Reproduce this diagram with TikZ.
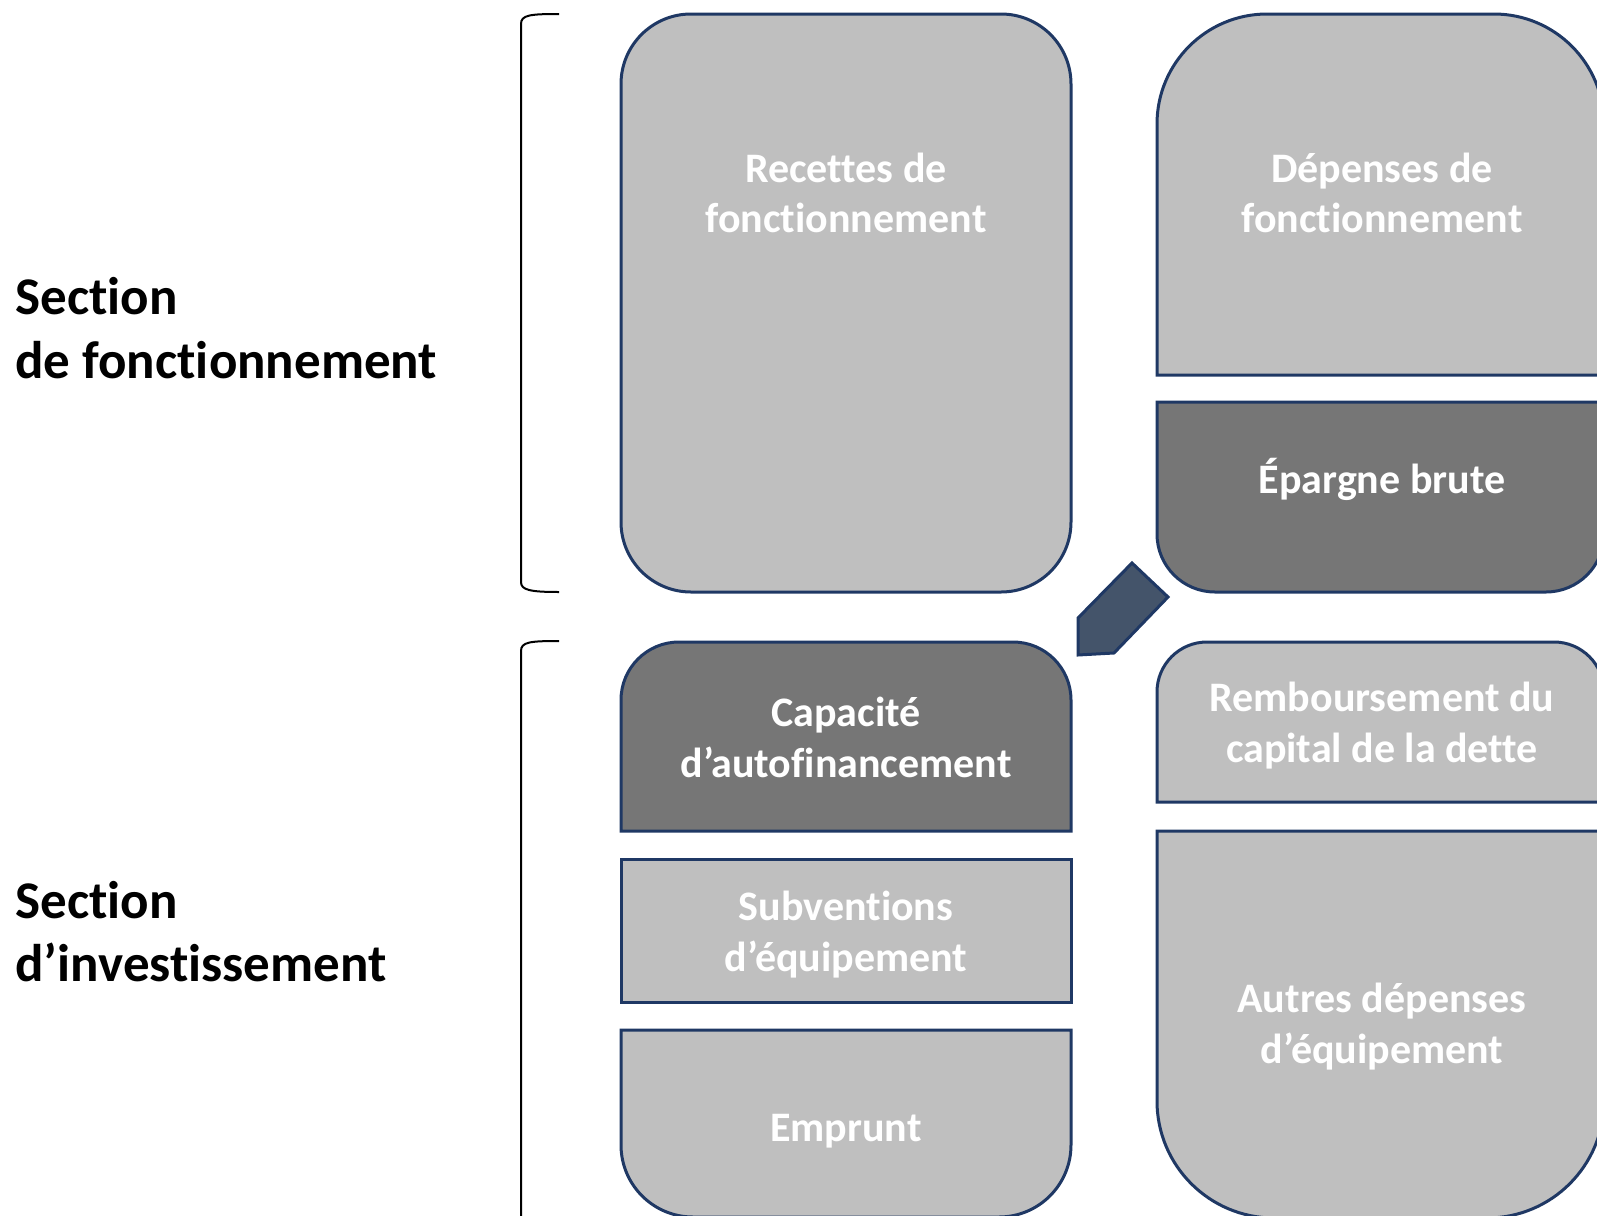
\documentclass[tikz,border=0pt]{standalone}
\usepackage{fontspec}
\setmainfont{Carlito}[Ligatures={NoCommon,NoRequired,NoContextual}]
\definecolor{navy}{HTML}{1F3864}
\definecolor{lightbox}{HTML}{BFBFBF}
\definecolor{darkbox}{HTML}{767676}
\definecolor{arrowfill}{HTML}{44546A}
\begin{document}
\begin{tikzpicture}[x=0.5pt,y=-0.5pt,
  light/.style={draw=navy, line width=1.5pt, fill=lightbox},
  dark/.style={draw=navy, line width=1.5pt, fill=darkbox},
  bracket/.style={draw=black, line width=1pt},
  lbl/.style={font=\bfseries\fontsize{21}{25}\selectfont, text=white, anchor=base, inner sep=0pt},
  side/.style={font=\bfseries\fontsize{26.5}{32}\selectfont, text=black, anchor=base west, inner sep=0pt}]
\useasboundingbox (0,0) rectangle (1597,1216);
\clip (0,0) rectangle (1597,1216);

% brackets
\draw[bracket] (559,14) .. controls (530,14) and (521,15) .. (521,24) -- (521,582) .. controls (521,590) and (530,592) .. (559,592);
\draw[bracket] (559,641) .. controls (530,641) and (521,642) .. (521,651) -- (521,1230);

% left column
\draw[light, rounded corners=35pt] (621,14) rectangle (1071,592);
\draw[dark] (621,831) -- (621,700) arc[start angle=180,end angle=90,radius=29pt] -- (1013,642) arc[start angle=90,end angle=0,radius=29pt] -- (1071,831) -- cycle;
\draw[light] (621,859) rectangle (1071,1002);
\draw[light] (621,1030) -- (1071,1030) -- (1071,1145) arc[start angle=0,end angle=-90,radius=36pt] -- (693,1217) arc[start angle=270,end angle=180,radius=36pt] -- cycle;

% right column
\draw[light] (1157,375) -- (1157,124) arc[start angle=180,end angle=90,radius=55pt] -- (1494,14) arc[start angle=90,end angle=0,radius=55pt] -- (1604,375) -- cycle;
\draw[dark] (1157,402) -- (1604,402) -- (1604,534) arc[start angle=0,end angle=-90,radius=29pt] -- (1215,592) arc[start angle=270,end angle=180,radius=29pt] -- cycle;
\draw[light] (1157,802) -- (1157,692) arc[start angle=180,end angle=90,radius=25pt] -- (1554,642) arc[start angle=90,end angle=0,radius=25pt] -- (1604,802) -- cycle;
\draw[light] (1157,831) -- (1604,831) -- (1604,1101) arc[start angle=0,end angle=-90,radius=58.5pt] -- (1274,1218) arc[start angle=270,end angle=180,radius=58.5pt] -- cycle;

% arrow
\draw[draw=navy, line width=1.5pt, fill=arrowfill, line join=miter] (1132,563) -- (1168,597) -- (1114,653) -- (1078,655) -- (1078,618) -- cycle;

% side labels
\node[side] (s1a) at (15,314) {Section};
\node[side] (s1b) at (15,378) {de fonctionnement};
\node[side] (s2a) at (15,918) {Section};
\node[side] (s2b) at (15,981) {d’investissement};

% box labels
\node[lbl] (r1) at (846,182) {Recettes de};
\node[lbl] (r2) at (846,232) {fonctionnement};
\node[lbl] (d1) at (1382,182) {Dépenses de};
\node[lbl] (d2) at (1382,232) {fonctionnement};
\node[lbl] (e1) at (1382,493) {Épargne brute};
\node[lbl] (c1) at (846,726) {Capacité};
\node[lbl] (c2) at (846,777) {d’autofinancement};
\node[lbl] (v1) at (846,920) {Subventions};
\node[lbl] (v2) at (846,971) {d’équipement};
\node[lbl] (m1) at (846,1141) {Emprunt};
\node[lbl] (b1) at (1382,711) {Remboursement du};
\node[lbl] (b2) at (1382,762) {capital de la dette};
\node[lbl] (a1) at (1382,1012) {Autres dépenses};
\node[lbl] (a2) at (1382,1063) {d’équipement};
\end{tikzpicture}
\end{document}
